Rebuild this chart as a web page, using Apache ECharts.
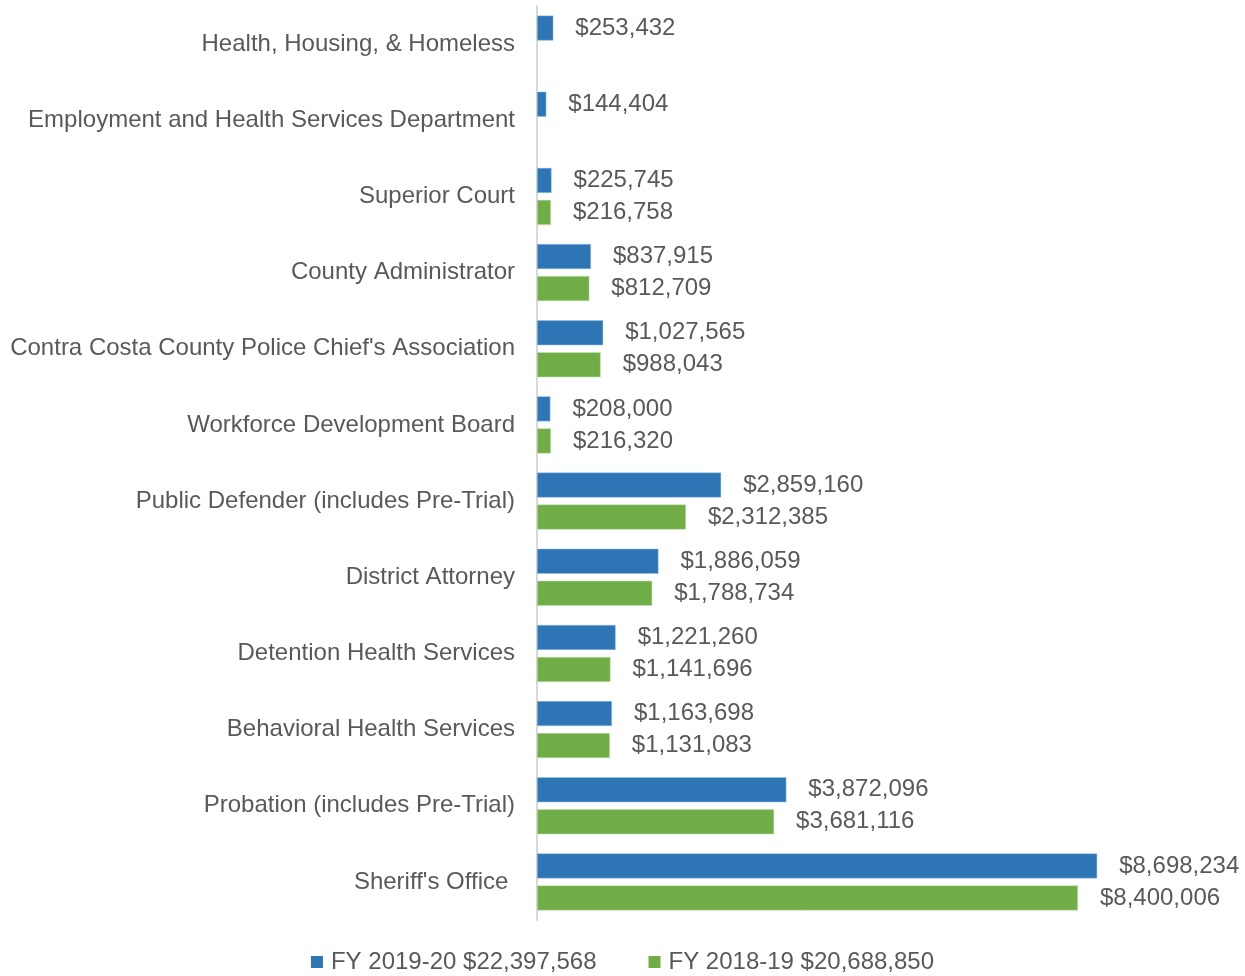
<!DOCTYPE html>
<html lang="en">
<head>
    <meta charset="utf-8">
    <script src="https://cdn.jsdelivr.net/npm/echarts@6/dist/echarts.min.js"></script>
    <style>
        html, body { margin: 0; padding: 0; background: #fff; }
    </style>
</head>
<body>
<div id="main" style="width: 1245px;height:976px;"></div>
    <script type="text/javascript">
        // categories, top to bottom
        var categories = ["Health, Housing, & Homeless", "Employment and Health Services Department", "Superior Court",
            "County Administrator", "Contra Costa County Police Chief's Association", "Workforce Development Board",
            "Public Defender (includes Pre-Trial)", "District Attorney", "Detention Health Services",
            "Behavioral Health Services", "Probation (includes Pre-Trial)", "Sheriff's Office"];
        var fy1920 = [253432, 144404, 225745, 837915, 1027565, 208000, 2859160, 1886059, 1221260, 1163698, 3872096, 8698234];
        var fy1819 = [null, null, 216758, 812709, 988043, 216320, 2312385, 1788734, 1141696, 1131083, 3681116, 8400006];
        var seriesNames = ['FY 2019-20 $22,397,568', 'FY 2018-19 $20,688,850'];

        var textColor = '#595959';
        var font = 'Liberation Sans, Arial, sans-serif';

        function money(p) {
            return '$' + p.value.toLocaleString('en-US');
        }

        var chart = echarts.init(document.getElementById('main'));
        var option = {
            animation: false,
            textStyle: { fontFamily: font },
            grid: { left: 537, right: 64, top: 6, bottom: 56, containLabel: false },
            legend: {
                data: seriesNames,
                bottom: -3,
                left: 'center',
                itemWidth: 12,
                itemHeight: 12,
                itemGap: 52,
                icon: 'rect',
                itemStyle: { borderWidth: 0 },
                textStyle: { color: textColor, fontSize: 24, fontFamily: font, padding: [0, 0, 0, 3] }
            },
            xAxis: {
                type: 'value',
                min: 0,
                max: 10000000,
                show: false
            },
            yAxis: {
                type: 'category',
                data: categories,
                inverse: true,
                axisLine: { show: true, lineStyle: { color: '#D9D9D9', width: 2 } },
                axisTick: { show: false },
                axisLabel: {
                    color: textColor, fontSize: 24, margin: 22, fontFamily: font, padding: [6, 0, 0, 0],
                    formatter: function (v) { return v === "Sheriff's Office" ? v + ' ' : v; }
                }
            },
            series: [{
                name: seriesNames[0],
                type: 'bar',
                data: fy1920,
                barWidth: 25,
                barGap: '28%',
                itemStyle: { color: '#2E75B6', borderColor: '#9DC3E6', borderWidth: 0.5 },
                label: { show: true, position: 'right', distance: 22, formatter: money, color: textColor, fontSize: 24, fontFamily: font, padding: [6, 0, 0, 0] }
            }, {
                name: seriesNames[1],
                type: 'bar',
                data: fy1819,
                barWidth: 25,
                itemStyle: { color: '#70AD47', borderColor: '#C5E0B4', borderWidth: 0.5 },
                label: { show: true, position: 'right', distance: 22, formatter: money, color: textColor, fontSize: 24, fontFamily: font, padding: [6, 0, 0, 0] }
            }]
        };
        chart.setOption(option);
    </script>
</body>
</html>
